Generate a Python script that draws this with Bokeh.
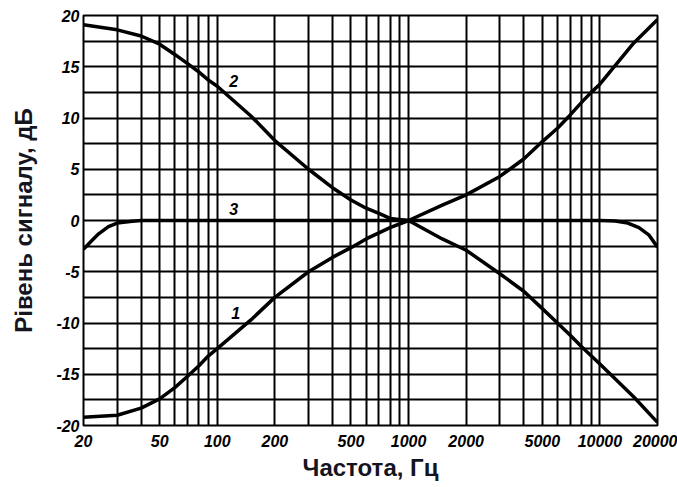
from bokeh.plotting import figure
from bokeh.models import FixedTicker, ColumnDataSource
from bokeh.core.properties import value
from bokeh.embed import file_html
from bokeh.resources import INLINE

# ---- data ----
freq = [20, 30, 40, 50, 60, 70, 80, 90, 100, 150, 200, 300, 400, 500, 600,
        700, 800, 1000, 1500, 2000, 3000, 4000, 5000, 6000, 7000, 8000, 9000,
        10000, 15000, 20000]
curve1 = [-19.2, -19.0, -18.3, -17.4, -16.3, -15.2, -14.2, -13.2, -12.5,
          -9.7, -7.5, -5.0, -3.6, -2.65, -1.8, -1.2, -0.7, 0.0, 1.5, 2.5,
          4.3, 6.0, 7.7, 9.0, 10.3, 11.5, 12.5, 13.3, 17.3, 19.6]
curve2 = [19.1, 18.6, 18.0, 17.2, 16.2, 15.3, 14.5, 13.7, 13.1,
          10.2, 7.8, 5.0, 3.2, 2.0, 1.2, 0.7, 0.2, 0.0, -1.8, -2.9,
          -5.2, -6.9, -8.6, -10.0, -11.2, -12.3, -13.2, -14.0, -17.2, -19.7]
freq3 = [20, 22, 24, 27, 30, 35, 40, 100, 1000, 10000, 12000, 14000, 16000,
         18000, 20000]
curve3 = [-2.8, -2.0, -1.3, -0.6, -0.25, -0.1, 0.0, 0.0, 0.0, 0.0, -0.05,
          -0.25, -0.7, -1.4, -2.6]

x_ticks = [20, 50, 100, 200, 500, 1000, 2000, 5000, 10000, 20000]
y_ticks = [-20, -15, -10, -5, 0, 5, 10, 15, 20]

label_text = ["1", "2", "3"]
label_x = [125, 122, 122]
label_y = [-9.0, 13.6, 1.1]

x_title = "Частота, Гц"
y_title = "Рівень сигналу, дБ"

# ---- figure ----
p = figure(width=677, height=487, x_axis_type="log",
           x_range=(20, 20000), y_range=(-20, 20),
           output_backend="svg", toolbar_location=None,
           min_border_left=83, min_border_right=20,
           min_border_top=15, min_border_bottom=62)
p.title.visible = False
p.background_fill_color = "white"
p.border_fill_color = "white"
p.outline_line_color = "black"
p.outline_line_width = 2

grid_x = [m * 10 ** e for e in range(1, 5) for m in range(1, 10)
          if 20 <= m * 10 ** e <= 20000]
grid_y = [v / 2.0 for v in range(-40, 41, 5)]

p.xgrid.ticker = FixedTicker(ticks=grid_x)
p.ygrid.ticker = FixedTicker(ticks=grid_y)
for g in (p.xgrid, p.ygrid):
    g.grid_line_color = "black"
    g.grid_line_width = 2
    g.grid_line_alpha = 1.0

tick_font = "Liberation Sans"
p.xaxis.ticker = FixedTicker(ticks=x_ticks, minor_ticks=[])
p.xaxis.major_label_overrides = {t: str(t) for t in x_ticks}
p.yaxis.ticker = FixedTicker(ticks=y_ticks, minor_ticks=[])
p.yaxis.major_label_overrides = {t: str(t) for t in y_ticks}

for ax in (p.xaxis[0], p.yaxis[0]):
    ax.axis_line_color = None
    ax.major_tick_line_color = None
    ax.minor_tick_line_color = None
    ax.major_tick_out = 0
    ax.major_tick_in = 0
    ax.major_label_text_font = tick_font
    ax.major_label_text_font_style = "bold italic"
    ax.major_label_text_font_size = "16px"
    ax.major_label_text_color = "black"
    ax.axis_label_text_font = "Liberation Sans"
    ax.axis_label_text_font_style = "bold"
    ax.axis_label_text_font_size = "24px"
    ax.axis_label_text_color = "#15151f"

p.xaxis.axis_label = x_title
p.yaxis.axis_label = y_title
p.xaxis.major_label_standoff = 9
p.yaxis.major_label_standoff = 4
p.xaxis.axis_label_standoff = 4
p.yaxis.axis_label_standoff = 16

p.line(freq, curve1, line_color="black", line_width=3.5, line_join="round")
p.line(freq, curve2, line_color="black", line_width=3.5, line_join="round")
p.line(freq3, curve3, line_color="black", line_width=3.5, line_join="round")

src = ColumnDataSource(dict(x=label_x, y=label_y, t=label_text))
p.text(x="x", y="y", text="t", source=src, text_font=value(tick_font),
       text_font_style="bold italic", text_font_size="16px",
       text_align="center", text_baseline="middle", text_color="black")

open("out.html", "w").write(file_html(p, INLINE))
